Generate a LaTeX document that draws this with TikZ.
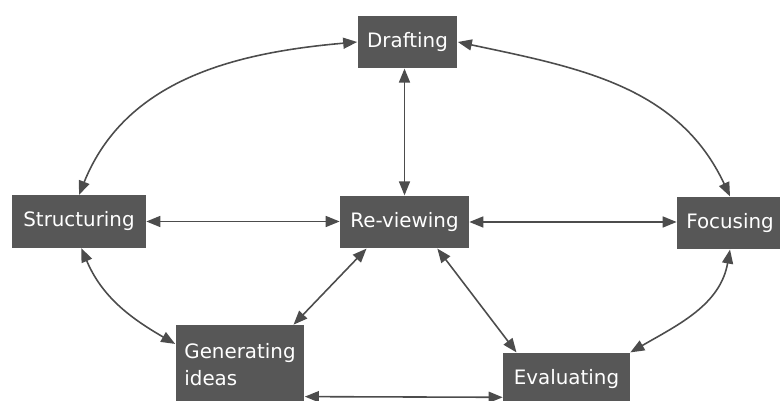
\documentclass[tikz,border=0pt]{standalone}
\usepackage{fontspec}
\setmainfont{DejaVu Sans}
\usetikzlibrary{arrows.meta}
\usepackage{xcolor}
\newcommand{\BoxHeight}{10.5mm}
\newcommand{\LabelFont}{\fontsize{11.3}{15.3}\selectfont}
\colorlet{stageFill}{black!66}
\colorlet{wireColor}{black!70}

\begin{document}
\begin{tikzpicture}[
  x=0.02cm, y=0.02cm,
  >={Triangle[length=2.8mm,width=2.2mm]},
  stage/.style={rectangle, fill=stageFill, text=white, font=\LabelFont,
    inner sep=0pt, minimum height=\BoxHeight},
  link/.style={<->, wireColor, line width=0.9pt}
]
\useasboundingbox (0,0) rectangle (780,401);

% Stages
\node[stage, minimum width=20mm] (drafting) at (407.5,359) {Drafting};
\node[stage, minimum width=26.8mm] (structuring) at (79,179.5) {Structuring};
\node[stage, minimum width=25.8mm] (reviewing) at (404.5,179) {Re-viewing};
\node[stage, minimum width=21.2mm] (focusing) at (730,178) {Focusing};
\node[stage, minimum width=25.8mm, minimum height=16mm, align=left]
  (generating) at (240,36) {Generating\\ideas};
\node[stage, minimum width=25.4mm] (evaluating) at (566.5,22) {Evaluating};

% Straight links
\draw[link] (reviewing.north) -- (reviewing.north |- drafting.south);
\draw[link] (structuring.east) -- (reviewing.west |- structuring.east);
\draw[link] (reviewing.east) -- (focusing.west |- reviewing.east);
\draw[link] (reviewing.215) -- (generating.37);
\draw[link] (reviewing.-39) -- (evaluating.152);
\draw[link] (generating.-26) -- (evaluating.196);

% Curved links
\draw[link] (drafting.west) to[out=185,in=68] (structuring.north);
\draw[link] (drafting.east) to[out=-12,in=115] (focusing.north);
\draw[link] (structuring.-85) to[out=-67,in=150] (generating.162);
\draw[link] (focusing.south) to[out=-100,in=30] (evaluating.north east);

\end{tikzpicture}
\end{document}
